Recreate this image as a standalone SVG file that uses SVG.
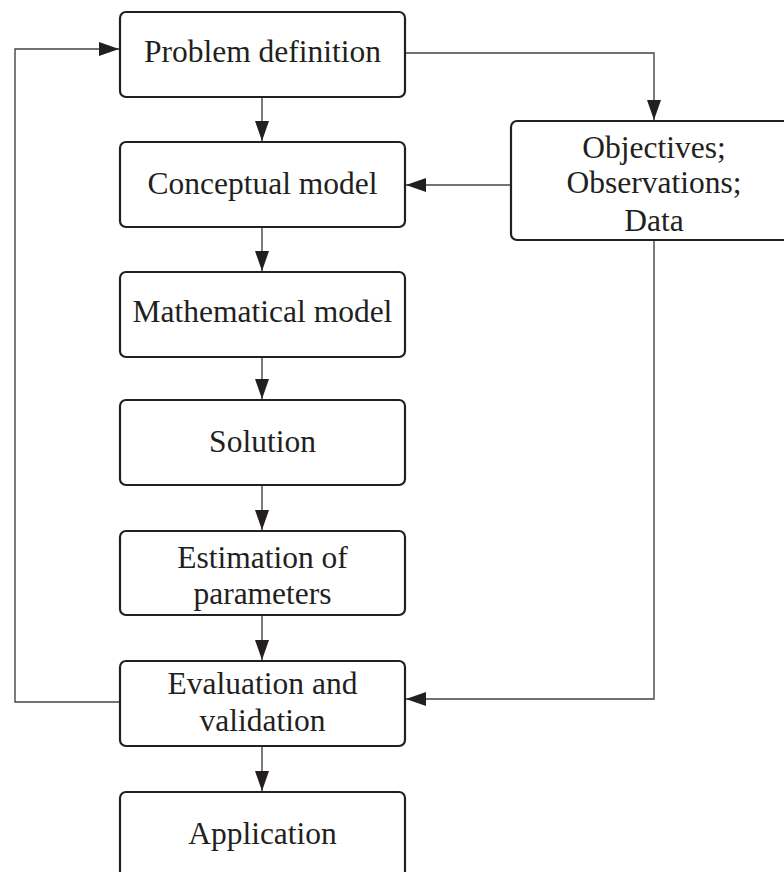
<svg xmlns="http://www.w3.org/2000/svg" width="784" height="872" viewBox="0 0 784 872">
<style>
.box{fill:#fff;stroke:#231f20;stroke-width:2.2}
.t{font-family:"Liberation Serif","Times New Roman",serif;font-size:31.5px;fill:#231f20;text-anchor:middle}
.c{fill:none;stroke:#444;stroke-width:1.4}
</style>
<defs>
<marker id="ah" markerUnits="userSpaceOnUse" markerWidth="20" markerHeight="14" refX="20" refY="7" orient="auto">
<path d="M0,0 L20,7 L0,14 Z" fill="#231f20"/>
</marker>
</defs>
<rect width="784" height="872" fill="#fff"/>
<g id="connectors">
<path class="c" d="M262,97 V141" marker-end="url(#ah)"/>
<path class="c" d="M262,227 V271" marker-end="url(#ah)"/>
<path class="c" d="M262,357 V399" marker-end="url(#ah)"/>
<path class="c" d="M262,485 V530" marker-end="url(#ah)"/>
<path class="c" d="M262,615 V660" marker-end="url(#ah)"/>
<path class="c" d="M262,746 V791" marker-end="url(#ah)"/>
<path class="c" d="M405,53 H654 V120" marker-end="url(#ah)"/>
<path class="c" d="M511,185 H406" marker-end="url(#ah)"/>
<path class="c" d="M654,240 V699 H406" marker-end="url(#ah)"/>
<path class="c" d="M120,702 H15 V49 H119" marker-end="url(#ah)"/>
</g>
<g id="problem"><rect class="box" x="120" y="12" width="285" height="85" rx="6"/><text class="t" x="262.5" y="62">Problem definition</text></g>
<g id="conceptual"><rect class="box" x="120" y="142" width="285" height="85" rx="6"/><text class="t" x="262.5" y="194">Conceptual model</text></g>
<g id="mathematical"><rect class="box" x="120" y="272" width="285" height="85" rx="6"/><text class="t" x="262.5" y="322">Mathematical model</text></g>
<g id="solution"><rect class="box" x="120" y="400" width="285" height="85" rx="6"/><text class="t" x="262.5" y="452">Solution</text></g>
<g id="estimation"><rect class="box" x="120" y="531" width="285" height="84" rx="6"/><text class="t" x="262.5" y="568">Estimation of</text><text class="t" x="262.5" y="604">parameters</text></g>
<g id="evaluation"><rect class="box" x="120" y="661" width="285" height="85" rx="6"/><text class="t" x="262.5" y="694">Evaluation and</text><text class="t" x="262.5" y="731">validation</text></g>
<g id="application"><rect class="box" x="120" y="792" width="285" height="90" rx="6"/><text class="t" x="262.5" y="844">Application</text></g>
<g id="objectives"><rect class="box" x="511" y="121" width="286" height="119" rx="6"/><text class="t" x="654" y="158">Objectives;</text><text class="t" x="654" y="193">Observations;</text><text class="t" x="654" y="231">Data</text></g>
</svg>
